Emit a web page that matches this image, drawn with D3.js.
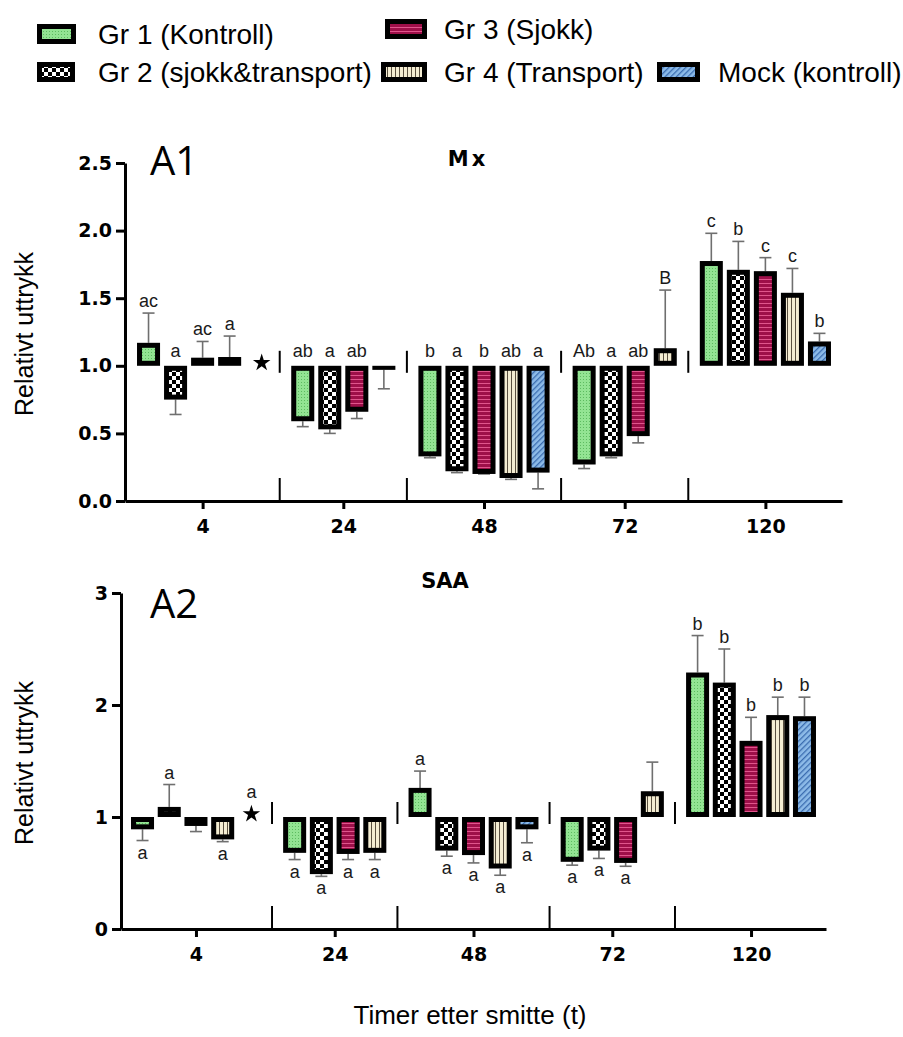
<!DOCTYPE html>
<html><head><meta charset="utf-8">
<script src="https://cdn.jsdelivr.net/npm/d3@7"></script>
<style>body{margin:0;background:#fff}</style>
</head><body>
<svg id="c" width="903" height="1037" xmlns="http://www.w3.org/2000/svg"></svg>
<script>
// ---------------- DATA ----------------
const groups = ["4", "24", "48", "72", "120"];
const seriesNames = ["Gr 1 (Kontroll)", "Gr 2 (sjokk&transport)", "Gr 3 (Sjokk)", "Gr 4 (Transport)", "Mock (kontroll)"];
const starGroup = "4";

// Mx (A1): mean relative expression per group x series (null = no bar)
const mxMean = [
  [1.17, 0.75, 1.06, 1.065, null],
  [0.59, 0.53, 0.66, 0.97, null],
  [0.33, 0.22, 0.20, 0.17, 0.21],
  [0.27, 0.33, 0.48, 1.13, null],
  [1.775, 1.71, 1.70, 1.54, 1.18]
];
// Mx error-bar end values
const mxErr = [
  [1.39, 0.64, 1.18, 1.22, null],
  [0.55, 0.50, 0.61, 0.83, null],
  [0.32, 0.21, 0.20, 0.16, 0.09],
  [0.24, 0.32, 0.43, 1.56, null],
  [1.98, 1.92, 1.80, 1.72, 1.24]
];
const mxLetters = [
  ["ac", "a", "ac", "a", null],
  ["ab", "a", "ab", null, null],
  ["b", "a", "b", "ab", "a"],
  ["Ab", "a", "ab", "B", null],
  ["c", "b", "c", "c", "b"]
];
const mxStarLetter = null;

// SAA (A2)
const saaMean = [
  [0.89, 1.09, 0.92, 0.80, null],
  [0.68, 0.49, 0.67, 0.68, null],
  [1.26, 0.70, 0.66, 0.54, 0.89],
  [0.60, 0.70, 0.59, 1.23, null],
  [2.29, 2.20, 1.68, 1.91, 1.90]
];
const saaErr = [
  [0.79, 1.29, 0.87, 0.78, null],
  [0.62, 0.47, 0.62, 0.62, null],
  [1.41, 0.65, 0.59, 0.48, 0.77],
  [0.57, 0.63, 0.56, 1.49, null],
  [2.62, 2.50, 1.89, 2.07, 2.07]
];
const saaLetters = [
  ["a", "a", null, "a", null],
  ["a", "a", "a", "a", null],
  ["a", "a", "a", "a", "a"],
  ["a", "a", "a", null, null],
  ["b", "b", "b", "b", "b"]
];
const saaStarLetter = "a";

const mxTicks = [0, 0.5, 1.0, 1.5, 2.0, 2.5];
const saaTicks = [0, 1, 2, 3];

// ---------------- DRAWING ----------------
const FONT = "'Liberation Sans', Arial, sans-serif";
const BOLDFONT = "'DejaVu Sans', sans-serif";
const svg = d3.select("#c");
const defs = svg.append("defs");

function pat(id, w, h, build, transform) {
  const p = defs.append("pattern").attr("id", id)
    .attr("patternUnits", "userSpaceOnUse").attr("width", w).attr("height", h);
  if (transform) p.attr("patternTransform", transform);
  build(p);
}
pat("p0", 3, 3, p => {
  p.append("rect").attr("width", 3).attr("height", 3).attr("fill", "#93e493");
  p.append("rect").attr("x", 1).attr("y", 1).attr("width", 1).attr("height", 1).attr("fill", "#5dbb60");
});
pat("p1", 8, 8, p => {
  p.append("rect").attr("width", 8).attr("height", 8).attr("fill", "#fff");
  p.append("rect").attr("width", 4).attr("height", 4).attr("fill", "#000");
  p.append("rect").attr("x", 4).attr("y", 4).attr("width", 4).attr("height", 4).attr("fill", "#000");
});
pat("p2", 4, 4, p => {
  p.append("rect").attr("width", 4).attr("height", 4).attr("fill", "#9e0f49");
  p.append("rect").attr("y", 3).attr("width", 4).attr("height", 1).attr("fill", "#e0558c");
});
pat("p3", 4, 4, p => {
  p.append("rect").attr("width", 4).attr("height", 4).attr("fill", "#f4edd2");
  p.append("rect").attr("x", 3).attr("width", 1).attr("height", 4).attr("fill", "#5a5040");
});
pat("p4", 4, 4, p => {
  p.append("rect").attr("width", 4).attr("height", 4).attr("fill", "#8dbbe8");
  p.append("rect").attr("width", 1.3).attr("height", 4).attr("fill", "#3b6db0");
}, "rotate(45)");
const fills = ["url(#p0)", "url(#p1)", "url(#p2)", "url(#p3)", "url(#p4)"];

const BW = 5; // border width

function drawBox(g, x0, x1, yA, yB, fill) {
  const top = Math.min(yA, yB), h = Math.abs(yA - yB), w = x1 - x0;
  if (h <= BW + 1) {
    g.append("rect").attr("x", x0).attr("y", top).attr("width", w).attr("height", Math.max(h, 3)).attr("fill", "#000");
  } else {
    g.append("rect").attr("x", x0 + BW / 2).attr("y", top + BW / 2)
      .attr("width", w - BW).attr("height", h - BW)
      .attr("fill", fill).attr("stroke", "#000").attr("stroke-width", BW);
  }
}

function drawPanel(cfg, means, errs, letters, starLetter) {
  const g = svg.append("g");
  const y = d3.scaleLinear().domain([0, cfg.yMax]).range([cfg.yBot, cfg.yTop]);
  const step = cfg.step;
  const barU = cfg.barW / step, gapU = cfg.gap / step;
  const bars = [], centers = [], seps = [];
  let pos = 0, starPos = null;
  groups.forEach((gr, gi) => {
    const start = pos;
    means[gi].forEach((m, si) => {
      if (m != null) { bars.push({ gi, si, pos, m, e: errs[gi][si], l: letters[gi][si] }); pos += 1; }
    });
    if (gr === starGroup) { starPos = pos; pos += 1; }
    const last = pos - 1;
    centers.push((start + last + barU) / 2);
    if (gi < groups.length - 1) seps.push((last + barU + last + 1 + gapU) / 2);
    pos += gapU;
  });
  const lastRight = pos - gapU - 1 + barU;
  const x = d3.scaleLinear()
    .domain([-cfg.padL / step, lastRight + cfg.padR / step])
    .range([cfg.xL, cfg.xR]);
  const y1 = y(1);

  // separators
  seps.forEach(s => {
    g.append("line").attr("x1", x(s)).attr("x2", x(s)).attr("y1", y1 - 15).attr("y2", y1 + 7)
      .attr("stroke", "#000").attr("stroke-width", 2);
    g.append("line").attr("x1", x(s)).attr("x2", x(s)).attr("y1", cfg.yBot).attr("y2", cfg.yBot - 23)
      .attr("stroke", "#000").attr("stroke-width", 2);
  });

  // error bars
  bars.forEach(b => {
    const cx = x(b.pos + barU / 2);
    g.append("line").attr("x1", cx).attr("x2", cx).attr("y1", y(b.m)).attr("y2", y(b.e))
      .attr("stroke", "#6f6f6f").attr("stroke-width", 1.6);
    g.append("line").attr("x1", cx - 6).attr("x2", cx + 6).attr("y1", y(b.e)).attr("y2", y(b.e))
      .attr("stroke", "#6f6f6f").attr("stroke-width", 1.6);
  });
  // bars
  bars.forEach(b => {
    drawBox(g, x(b.pos), x(b.pos + barU), y1, y(b.m), fills[b.si]);
  });
  // letters
  bars.forEach(b => {
    if (!b.l) return;
    const cx = x(b.pos + barU / 2);
    let ty;
    if (b.m >= 1) ty = y(b.e) - 6;
    else ty = cfg.mode === "top" ? y1 - 9 : y(b.e) + 18;
    g.append("text").attr("x", cx).attr("y", ty).attr("text-anchor", "middle")
      .attr("font-family", FONT).attr("font-size", 18).attr("fill", "#1a1a1a").text(b.l);
  });
  // star
  if (starPos != null) {
    const sx = x(starPos + barU / 2) + cfg.starDx;
    g.append("path").attr("d", d3.symbol().type(d3.symbolStar).size(95)())
      .attr("transform", `translate(${sx},${y1 - 3})`).attr("fill", "#000");
    if (starLetter) {
      g.append("text").attr("x", sx).attr("y", y1 - 19).attr("text-anchor", "middle")
        .attr("font-family", FONT).attr("font-size", 18).attr("fill", "#1a1a1a").text(starLetter);
    }
  }

  // axes
  const ya = g.append("g").attr("transform", `translate(${cfg.xL},0)`)
    .call(d3.axisLeft(y).tickValues(cfg.ticks).tickFormat(d3.format(cfg.fmt)).tickSize(9).tickSizeOuter(0));
  const xa = g.append("g").attr("transform", `translate(0,${cfg.yBot})`)
    .call(d3.axisBottom(x).tickValues(centers).tickFormat((d, i) => groups[i]).tickSize(8).tickSizeOuter(0));
  [ya, xa].forEach(a => {
    a.select(".domain").attr("stroke", "#000").attr("stroke-width", 3);
    a.selectAll(".tick line").attr("stroke", "#000").attr("stroke-width", 3);
    a.selectAll(".tick text").attr("font-family", BOLDFONT).attr("font-weight", "bold")
      .attr("font-size", 19).attr("fill", "#000");
  });
  ya.selectAll(".tick text").attr("x", -13);
  xa.selectAll(".tick text").attr("dy", "0.71em").attr("y", 19);

  // labels
  g.append("text").attr("x", cfg.panelX).attr("y", cfg.panelY).attr("font-family", "'Open Sans', sans-serif")
    .attr("font-size", 40).attr("fill", "#000").text(cfg.panel);
  g.append("text").attr("x", cfg.titleX).attr("y", cfg.titleY).attr("text-anchor", "middle")
    .attr("font-family", BOLDFONT).attr("font-weight", "bold").attr("font-size", 21)
    .attr("letter-spacing", cfg.titleLS).attr("fill", "#000").text(cfg.title);
  g.append("text").attr("transform", `translate(33,${(cfg.yTop + cfg.yBot) / 2 + 2}) rotate(-90)`)
    .attr("text-anchor", "middle").attr("font-family", FONT).attr("font-size", 25).attr("fill", "#000")
    .text("Relativt uttrykk");
}

drawPanel({
  yTop: 163, yBot: 501, yMax: 2.5, ticks: mxTicks, fmt: ".1f",
  xL: 125, xR: 842, step: 27, barW: 23, gap: 19, padL: 12, padR: 11, starDx: 5,
  mode: "top", panel: "A1", panelX: 150, panelY: 175, title: "Mx", titleX: 468, titleY: 166, titleLS: 3
}, mxMean, mxErr, mxLetters, mxStarLetter);

drawPanel({
  yTop: 593, yBot: 929, yMax: 3, ticks: saaTicks, fmt: "d",
  xL: 121, xR: 826, step: 26.7, barW: 23, gap: 18.5, padL: 10, padR: 10, starDx: 2,
  mode: "out", panel: "A2", panelX: 150, panelY: 618, title: "SAA", titleX: 445, titleY: 588, titleLS: 0
}, saaMean, saaErr, saaLetters, saaStarLetter);

svg.append("text").attr("x", 470).attr("y", 1024).attr("text-anchor", "middle")
  .attr("font-family", FONT).attr("font-size", 26).attr("fill", "#000").text("Timer etter smitte (t)");

// legend
const legendItems = [
  { s: 0, sx: 37, sw: 39, tx: 98, cy: 34 },
  { s: 2, sx: 385, sw: 42, tx: 444, cy: 29 },
  { s: 1, sx: 37, sw: 38, tx: 98, cy: 72 },
  { s: 3, sx: 381, sw: 46, tx: 444, cy: 72 },
  { s: 4, sx: 657, sw: 43, tx: 718, cy: 72 }
];
const lg = svg.append("g");
legendItems.forEach(it => {
  lg.append("rect").attr("x", it.sx + 2.5).attr("y", it.cy - 10 + 2.5).attr("width", it.sw - 5).attr("height", 15)
    .attr("fill", fills[it.s]).attr("stroke", "#000").attr("stroke-width", 5);
  lg.append("text").attr("x", it.tx).attr("y", it.cy + 10).attr("font-family", FONT).attr("font-size", 28)
    .attr("fill", "#000").text(seriesNames[it.s]);
});
</script>
</body></html>
